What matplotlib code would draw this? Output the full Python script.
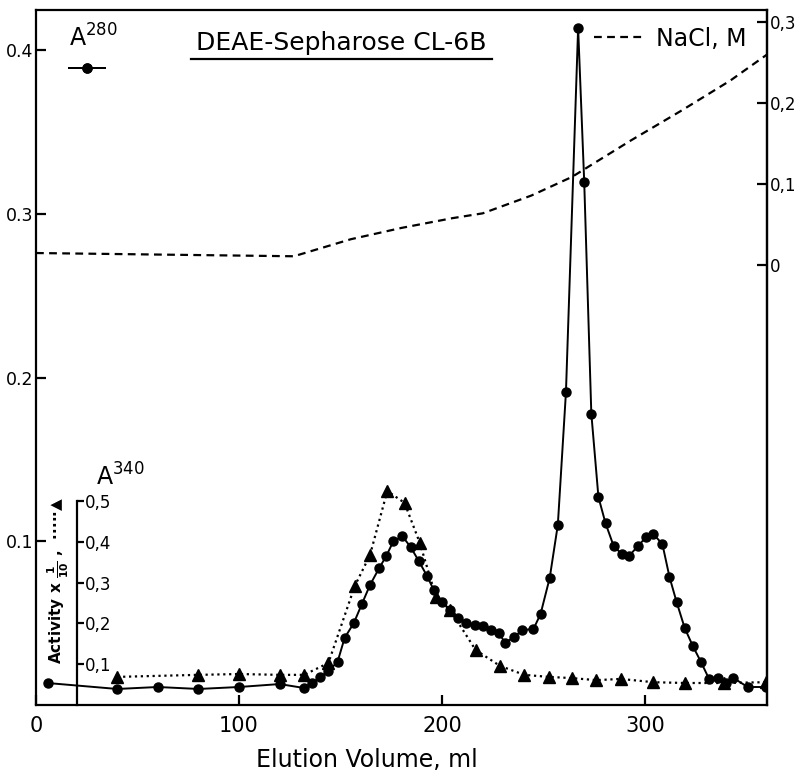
"""Elution profile on DEAE-Sepharose CL-6B."""

import matplotlib
matplotlib.use("Agg")
import matplotlib.pyplot as plt
from matplotlib.lines import Line2D

# A280 (filled circles, solid line)
vol_a280 = [6, 40, 60, 80, 100, 120, 132, 136, 140, 144, 148.5,
            152, 156.5, 160.5, 164.5, 169, 172.5, 176, 180.5, 184.5, 188.5,
            192.5, 196, 200, 204, 208, 212, 216, 220, 224, 228,
            231, 235.5, 239.5, 245, 248.5, 253, 257, 261, 267, 270,
            273.5, 277, 280.5, 284.5, 288.5, 292, 296.5, 300.5, 304, 308.5,
            312, 315.5, 319.5, 323.5, 327.5, 331.5, 336, 340, 343.5, 350.5,
            359.5]
a280 = [0.0134, 0.0098, 0.011, 0.0098, 0.011, 0.0128, 0.0104, 0.0134, 0.0171, 0.0208, 0.0263,
        0.041, 0.050, 0.0617, 0.0733, 0.0836, 0.091, 0.100, 0.103, 0.0965, 0.088,
        0.079, 0.070, 0.063, 0.058, 0.053, 0.050, 0.049, 0.048, 0.046, 0.044,
        0.038, 0.0415, 0.0458, 0.0464, 0.0556, 0.0776, 0.110, 0.191, 0.4136, 0.3195,
        0.178, 0.127, 0.111, 0.0971, 0.0922, 0.091, 0.0971, 0.1026, 0.1045, 0.0983,
        0.0782, 0.0629, 0.047, 0.036, 0.0263, 0.0159, 0.0165, 0.0134, 0.0165, 0.011,
        0.011]

# activity (triangles, dotted line), A340 scale
vol_act = [40, 80, 100, 120, 132, 144, 157, 164.5, 173, 181.5, 189, 197,
           204, 216.5, 228.5, 240.5, 252.5, 264, 276, 288, 304, 319.5, 339, 359.5]
activity = [0.069, 0.074, 0.076, 0.074, 0.074, 0.103, 0.292, 0.368, 0.525, 0.496, 0.398, 0.265,
            0.233, 0.135, 0.096, 0.074, 0.069, 0.066, 0.061, 0.064, 0.056, 0.054, 0.054, 0.056]

# NaCl gradient (dashed)
vol_nacl = [0, 127, 155, 180, 205, 220, 244, 264, 273, 293, 318, 342, 360]
nacl = [0.015, 0.011, 0.032, 0.046, 0.058, 0.064, 0.086, 0.109, 0.123, 0.154, 0.191, 0.228, 0.26]

x_ticks = [0, 100, 200, 300]
a280_ticks = [0.1, 0.2, 0.3, 0.4]
a280_labels = ["0.1", "0.2", "0.3", "0.4"]
nacl_ticks = [0, 0.1, 0.2, 0.3]
nacl_labels = ["0", "0,1", "0,2", "0,3"]
act_ticks = [0.1, 0.2, 0.3, 0.4, 0.5]
act_labels = ["0,1", "0,2", "0,3", "0,4", "0,5"]

fig = plt.figure(figsize=(8.02, 7.83), dpi=100)
ax = fig.add_axes([0.0449, 0.0996, 0.9114, 0.8876])
lw = 1.6
dash = (3.5, 2.4)

# main axis: A280
ax.plot(vol_a280, a280, '-', color='black', lw=1.4, marker='o', ms=6.5, zorder=3)
ax.set_xlim(0, 360)
ax.set_ylim(0, 0.4245)
ax.set_xticks(x_ticks)
ax.set_yticks(a280_ticks)
ax.set_yticklabels(a280_labels)
ax.tick_params(axis='both', direction='in', length=7, width=lw, colors='black')
ax.tick_params(axis='x', labelsize=15, pad=8)
ax.tick_params(axis='y', labelsize=12.5, pad=2)
for s in ax.spines.values():
    s.set_linewidth(lw)
ax.set_xlabel("Elution Volume, ml", fontsize=17)
ax.xaxis.set_label_coords(0.452, -0.062)

# NaCl axis on the right
ax_n = ax.twinx()
ax_n.plot(vol_nacl, nacl, color='black', lw=1.6, dashes=dash)
ax_n.set_ylim(-0.543, 0.315)
ax_n.set_yticks(nacl_ticks)
ax_n.set_yticklabels(nacl_labels)
ax_n.tick_params(axis='y', direction='in', length=7, width=lw, labelsize=12, pad=2)
for k in ['left', 'top', 'bottom']:
    ax_n.spines[k].set_visible(False)
ax_n.spines['right'].set_linewidth(lw)

# activity axis, placed inside at 20 ml
ax_a = ax.twinx()
ax_a.plot(vol_act, activity, ':', color='black', lw=1.6, marker='^', ms=8, zorder=3)
ax_a.set_ylim(0, 1.705)
ax_a.spines['right'].set_position(('data', 20))
ax_a.spines['right'].set_bounds(0, 0.5)
ax_a.spines['right'].set_linewidth(lw)
for k in ['left', 'top', 'bottom']:
    ax_a.spines[k].set_visible(False)
ax_a.set_yticks(act_ticks)
ax_a.set_yticklabels(act_labels)
ax_a.tick_params(axis='y', direction='out', length=5, width=lw, labelsize=12, pad=1)
ax_a.text(0.031, 0.18, r"Activity x $\mathregular{\frac{1}{10}}$ ,  ·····▲",
          transform=ax.transAxes, rotation=90, fontsize=11, fontweight='bold',
          ha='center', va='center')
ax_a.text(0.082, 0.315, r"$\mathregular{A^{340}}$", transform=ax.transAxes,
          fontsize=17, ha='left', va='baseline')

# title, underlined
ax.text(0.418, 0.9525, "DEAE-Sepharose CL-6B", transform=ax.transAxes,
        fontsize=18, ha='center', va='center')
ax.plot([0.212, 0.624], [0.929, 0.929], transform=ax.transAxes,
        color='black', lw=1.6, clip_on=False)

# A280 legend
ax.text(0.045, 0.96, r"$\mathregular{A^{280}}$", transform=ax.transAxes,
        fontsize=17, ha='left', va='center')
leg1 = ax.legend(handles=[Line2D([], [], color='black', lw=1.4, marker='o', ms=6.5)],
                 labels=[''], loc='upper left', bbox_to_anchor=(0.035, 0.935),
                 frameon=False, handlelength=2.6, borderpad=0, handletextpad=0)
ax.add_artist(leg1)

# NaCl legend
ax_n.legend(handles=[Line2D([], [], color='black', lw=1.6, dashes=dash)],
            labels=['NaCl, M'], loc='upper right', bbox_to_anchor=(0.988, 0.993),
            frameon=False, fontsize=17, handlelength=2.0, handletextpad=0.6,
            borderpad=0)

fig.savefig('out.png', dpi=100)
